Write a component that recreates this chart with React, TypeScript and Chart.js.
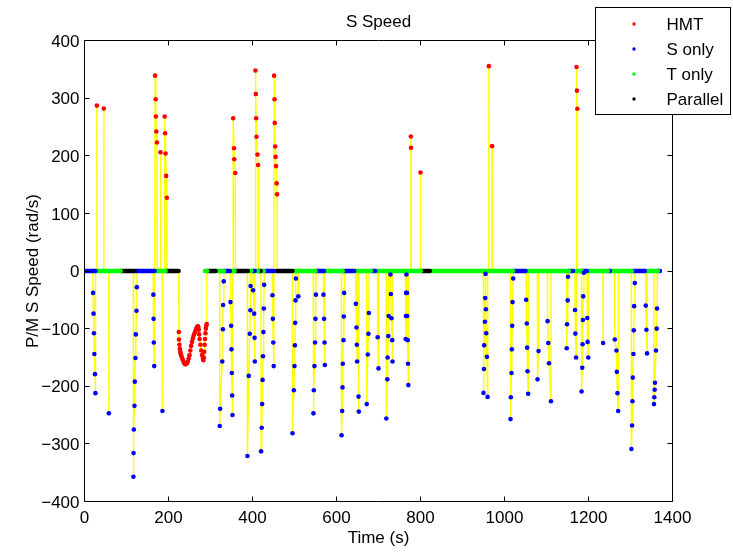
import React, { useEffect, useRef } from 'react';
import { Chart, registerables } from 'chart.js';

Chart.register(...registerables);

const TITLE = 'S Speed';
const X_LABEL = 'Time (s)';
const Y_LABEL = 'P/M S Speed (rad/s)';

const MODE_NAMES = ['HMT', 'S only', 'T only', 'Parallel'];
const MODE_COLORS = ['#ff0000', '#0000ff', '#00ff00', '#000000'];

const X_TICKS = [0, 200, 400, 600, 800, 1000, 1200, 1400];
const Y_TICKS = [-400, -300, -200, -100, 0, 100, 200, 300, 400];

// Intervals where the speed sits at 0: [start time, end time, mode index]
const ZERO_RUNS: [number, number, number][] = [
  [0, 26, 1], [26, 86, 2], [86, 119, 3], [122, 167, 1], [169, 193, 2], [193, 224, 3],
  [287, 292, 2], [292, 312, 3], [312, 332, 2], [332, 346, 1], [346, 357, 2], [357, 389, 3],
  [389, 397, 2], [397, 405, 1], [405, 413, 2], [413, 419, 3], [419, 427, 2], [427, 451, 1],
  [457, 495, 3], [495, 550, 2], [550, 570, 1], [570, 615, 2], [615, 642, 1], [642, 682, 2],
  [682, 692, 1], [692, 801, 2], [801, 822, 3], [822, 1020, 2], [1020, 1050, 1], [1050, 1153, 2],
  [1153, 1163, 1], [1163, 1184, 2], [1184, 1196, 1], [1196, 1246, 2], [1246, 1251, 1],
  [1251, 1303, 2], [1303, 1334, 1], [1334, 1365, 2], [1365, 1370, 1],
];

// HMT excursions: [time, speed] samples
const HMT_SPIKES: [number, number][][] = [
  [[29.4, 287]],
  [[46, 282]],
  [[168, 339], [169.5, 298], [170, 268], [171, 242], [172.5, 223]],
  [[181, 206]],
  [[191, 268], [192, 239], [193, 204], [194.5, 165], [196, 127]],
  [
    [224.6, -106], [225, -119], [226, -128], [227, -135], [228, -140], [229, -143], [230, -146],
    [232, -150], [234, -154], [236, -158], [238, -161], [240, -162], [242, -161], [244, -160],
    [246, -157], [248, -152], [250, -146], [252, -138], [254, -130], [256, -123], [258, -117],
    [260, -112], [262, -108], [264, -104], [266, -100], [268, -97], [270, -96], [271, -97],
    [272, -102], [273, -110], [274, -118], [276, -128], [278, -138], [280, -146], [282, -152],
    [283, -155], [284, -150], [285, -140], [286, -128], [287, -118], [288, -108], [289, -100],
    [290, -95], [291, -92],
  ],
  [[354, 265], [356, 213], [356.5, 194], [359, 170]],
  [[407, 348], [407.9, 307], [408.7, 265], [409.5, 233], [411.9, 202], [413.4, 184]],
  [[451.5, 339], [452.5, 298], [453, 257], [454, 216], [455, 198], [456, 182], [457.5, 152], [458.5, 133]],
  [[777, 233.5], [777.5, 214]],
  [[800, 171]],
  [[962.7, 355.5]],
  [[970.6, 216.7]],
  [[1171.5, 354], [1172.5, 313], [1173.5, 281.5]],
];

// S only excursions: [time, speed] samples
const S_ONLY_SPIKES: [number, number][][] = [
  [[20.5, -38], [21.5, -74], [22.5, -108], [23.5, -144], [25, -179], [26, -212]],
  [[58, -247]],
  [[116.5, -357], [116.8, -316], [117.5, -275], [119, -234], [119.8, -192], [121.4, -151], [122.2, -110], [123.8, -69], [124.6, -28]],
  [[164, -41], [164.5, -83], [165, -124], [166, -165]],
  [[185.5, -243]],
  [[322, -269], [323, -239], [328, -157], [329.5, -101], [330, -59], [331.5, -18]],
  [[347.6, -54], [349.2, -95], [350, -136], [350.8, -177], [351.5, -216], [352.4, -250]],
  [[388, -321], [391, -182], [393.5, -109], [395, -68], [395.5, -26]],
  [[401.5, -33.5], [404, -74], [405, -116], [405.5, -157]],
  [[420.5, -313], [422, -272], [423, -231], [424, -189], [425, -148], [426, -106], [427, -65], [427.7, -24]],
  [[447.5, -42], [448.5, -83], [449.5, -124], [450.5, -165]],
  [[495.3, -281.5], [498.5, -207], [500, -165], [501, -129], [501.7, -90], [502.5, -51], [503.3, -13]],
  [[509, -44]],
  [[545, -247], [546, -207], [547.5, -165], [549, -124], [550, -83], [551, -41]],
  [[569, -41], [570.5, -83], [571.5, -124], [572.3, -163]],
  [[612, -285], [613.5, -243], [614.3, -202], [615, -161], [616.6, -120], [617.4, -79], [618.2, -38]],
  [[646, -57], [647.6, -98], [648.4, -128], [649.2, -157]],
  [[652.4, -218], [653.2, -244]],
  [[672, -231], [674.5, -145], [676, -109], [677, -73]],
  [[698, -115], [700, -169]],
  [[718.6, -256], [721, -188], [721.8, -150], [723.4, -113], [724.2, -78]],
  [[728.5, -6], [729.4, -40], [731, -82], [732.6, -120], [733.4, -157]],
  [[764.7, -118], [765.3, -78], [765.7, -38], [766.5, -6]],
  [[767.9, -38], [768.3, -78], [769.5, -120], [770.3, -161], [771.1, -198]],
  [[950, -211.5], [951, -170], [951.7, -129], [953.3, -88], [954.1, -47], [954.9, -5]],
  [[955.7, -66.5], [956.5, -108], [958.1, -149], [959.7, -218.5]],
  [[1014.3, -257], [1015.1, -219], [1016.7, -177], [1017.5, -136], [1018.3, -95], [1019.1, -54], [1020.7, -13]],
  [[1051.6, -50], [1053.2, -91], [1054, -133], [1054.8, -174], [1056.3, -213]],
  [[1078.7, -188], [1081.1, -139]],
  [[1102.7, -87], [1104.3, -125], [1105.9, -160], [1110.6, -226]],
  [[1148.1, -134], [1148.9, -92.5], [1150.5, -51], [1151.3, -10]],
  [[1168, -67.6], [1168.8, -108.6], [1170.4, -150]],
  [[1183.5, -209], [1185.1, -168], [1185.9, -127], [1186.7, -85], [1187.5, -44], [1189, -3]],
  [[1197.1, -81.5], [1197.9, -123], [1199.5, -150]],
  [[1234.8, -125]],
  [[1262.6, -119], [1266.6, -138], [1267.4, -175], [1269, -212], [1270.6, -243]],
  [[1302.2, -309], [1303.8, -268], [1304.6, -226], [1305.4, -185], [1307, -144], [1307.8, -103], [1308.6, -61], [1310.2, -21]],
  [[1336.3, -60], [1337.9, -102], [1339.5, -143]],
  [[1355.9, -231], [1356.7, -219], [1357.5, -206], [1358.3, -194], [1360.7, -138], [1362.3, -100], [1363.1, -65]],
];

const END_TIME = 1370;

const FONT = '17px "Liberation Sans", Arial, Helvetica, sans-serif';

function fmtTick(v: number): string {
  return v < 0 ? '\u2212' + Math.abs(v) : String(v);
}

const framePlugin = {
  id: 'matlabFrame',
  afterDraw(chart: any) {
    const { ctx, chartArea: a, scales } = chart;
    const xs = scales.x;
    const ys = scales.y;
    ctx.save();
    ctx.strokeStyle = '#000';
    ctx.lineWidth = 1;
    ctx.beginPath();
    ctx.rect(a.left, a.top, a.right - a.left, a.bottom - a.top);
    ctx.stroke();
    const TL = 5;
    ctx.beginPath();
    for (const v of X_TICKS) {
      const px = Math.round(xs.getPixelForValue(v) - 0.5) + 0.5;
      ctx.moveTo(px, a.bottom);
      ctx.lineTo(px, a.bottom - TL);
      ctx.moveTo(px, a.top);
      ctx.lineTo(px, a.top + TL);
    }
    for (const v of Y_TICKS) {
      const py = Math.round(ys.getPixelForValue(v) - 0.5) + 0.5;
      ctx.moveTo(a.left, py);
      ctx.lineTo(a.left + TL, py);
      ctx.moveTo(a.right, py);
      ctx.lineTo(a.right - TL, py);
    }
    ctx.stroke();

    ctx.fillStyle = '#000';
    ctx.font = FONT;
    ctx.textBaseline = 'alphabetic';
    ctx.textAlign = 'center';
    for (const v of X_TICKS) {
      ctx.fillText(fmtTick(v), xs.getPixelForValue(v), 523.3);
    }
    ctx.textAlign = 'right';
    for (const v of Y_TICKS) {
      ctx.fillText(fmtTick(v), 79.5, ys.getPixelForValue(v) + 6.2);
    }
    ctx.textAlign = 'center';
    const cx = (a.left + a.right) / 2;
    ctx.fillText(TITLE, cx, 26.7);
    ctx.fillText(X_LABEL, cx, 543.3);
    ctx.save();
    ctx.translate(37.5, (a.top + a.bottom) / 2);
    ctx.rotate(-Math.PI / 2);
    ctx.fillText(Y_LABEL, 0, 0);
    ctx.restore();

    // legend
    const lx = 595.5, ly = 7.5, lw = 135, lh = 107;
    ctx.fillStyle = '#fff';
    ctx.fillRect(lx, ly, lw, lh);
    ctx.strokeStyle = '#000';
    ctx.strokeRect(lx, ly, lw, lh);
    ctx.textAlign = 'left';
    MODE_NAMES.forEach((name, i) => {
      const ry = 24 + 25 * i;
      ctx.fillStyle = MODE_COLORS[i];
      ctx.beginPath();
      ctx.arc(634, ry, 1.7, 0, Math.PI * 2);
      ctx.fill();
      ctx.fillStyle = '#000';
      ctx.fillText(name, 666.5, ry + 6.3);
    });
    ctx.restore();
  },
};

export default function App() {
  const canvasRef = useRef<HTMLCanvasElement | null>(null);

  useEffect(() => {
    const canvas = canvasRef.current;
    if (!canvas) return;

    const spikes = [
      ...HMT_SPIKES.map((pts) => ({ mode: 0, pts })),
      ...S_ONLY_SPIKES.map((pts) => ({ mode: 1, pts })),
    ].sort((p, q) => p.pts[0][0] - q.pts[0][0]);

    const trace: { x: number; y: number }[] = [{ x: 0, y: 0 }];
    for (const s of spikes) {
      trace.push({ x: s.pts[0][0] - 0.4, y: 0 });
      for (const [x, y] of s.pts) trace.push({ x, y });
      trace.push({ x: s.pts[s.pts.length - 1][0] + 0.4, y: 0 });
    }
    trace.push({ x: END_TIME, y: 0 });

    const markerSets = MODE_NAMES.map((name, m) => ({
      label: name,
      data: spikes.filter((s) => s.mode === m).flatMap((s) => s.pts.map(([x, y]) => ({ x, y }))),
      showLine: false,
      pointRadius: 2.3,
      pointBorderWidth: 0,
      pointBackgroundColor: MODE_COLORS[m],
      backgroundColor: MODE_COLORS[m],
      borderColor: MODE_COLORS[m],
      order: 0,
    }));

    const bandSets = ZERO_RUNS.map(([s, e, m]) => ({
      label: 'run',
      data: [{ x: s, y: 0 }, { x: e, y: 0 }],
      showLine: true,
      borderColor: MODE_COLORS[m],
      borderWidth: 4.6,
      borderCapStyle: 'round',
      pointRadius: 0,
      order: 1,
    }));

    const traceSet = {
      label: 'trace',
      data: trace,
      showLine: true,
      borderColor: '#ffff00',
      borderWidth: 1.4,
      pointRadius: 0,
      order: 2,
    };

    const chart = new Chart(canvas, {
      type: 'scatter',
      data: { datasets: [...markerSets, ...bandSets, traceSet] as any },
      options: {
        responsive: false,
        devicePixelRatio: 1,
        animation: false,
        events: [],
        layout: { padding: { left: 0, top: 40.5, right: 60.5, bottom: 0 } },
        plugins: { legend: { display: false }, tooltip: { enabled: false }, title: { display: false } },
        scales: {
          x: {
            type: 'linear',
            min: 0,
            max: 1400,
            ticks: { display: false, stepSize: 200 },
            grid: { display: false, drawTicks: false },
            border: { display: false },
            afterFit: (s: any) => { s.height = 51.5; },
          },
          y: {
            type: 'linear',
            min: -400,
            max: 400,
            ticks: { display: false, stepSize: 100 },
            grid: { display: false, drawTicks: false },
            border: { display: false },
            afterFit: (s: any) => { s.width = 84.5; },
          },
        },
      },
      plugins: [framePlugin],
    });

    return () => chart.destroy();
  }, []);

  return (
    <div style={{ position: 'absolute', left: 0, top: 0, width: 733, height: 553, background: '#fff' }}>
      <canvas ref={canvasRef} width={733} height={553} style={{ width: 733, height: 553, display: 'block' }} />
    </div>
  );
}
